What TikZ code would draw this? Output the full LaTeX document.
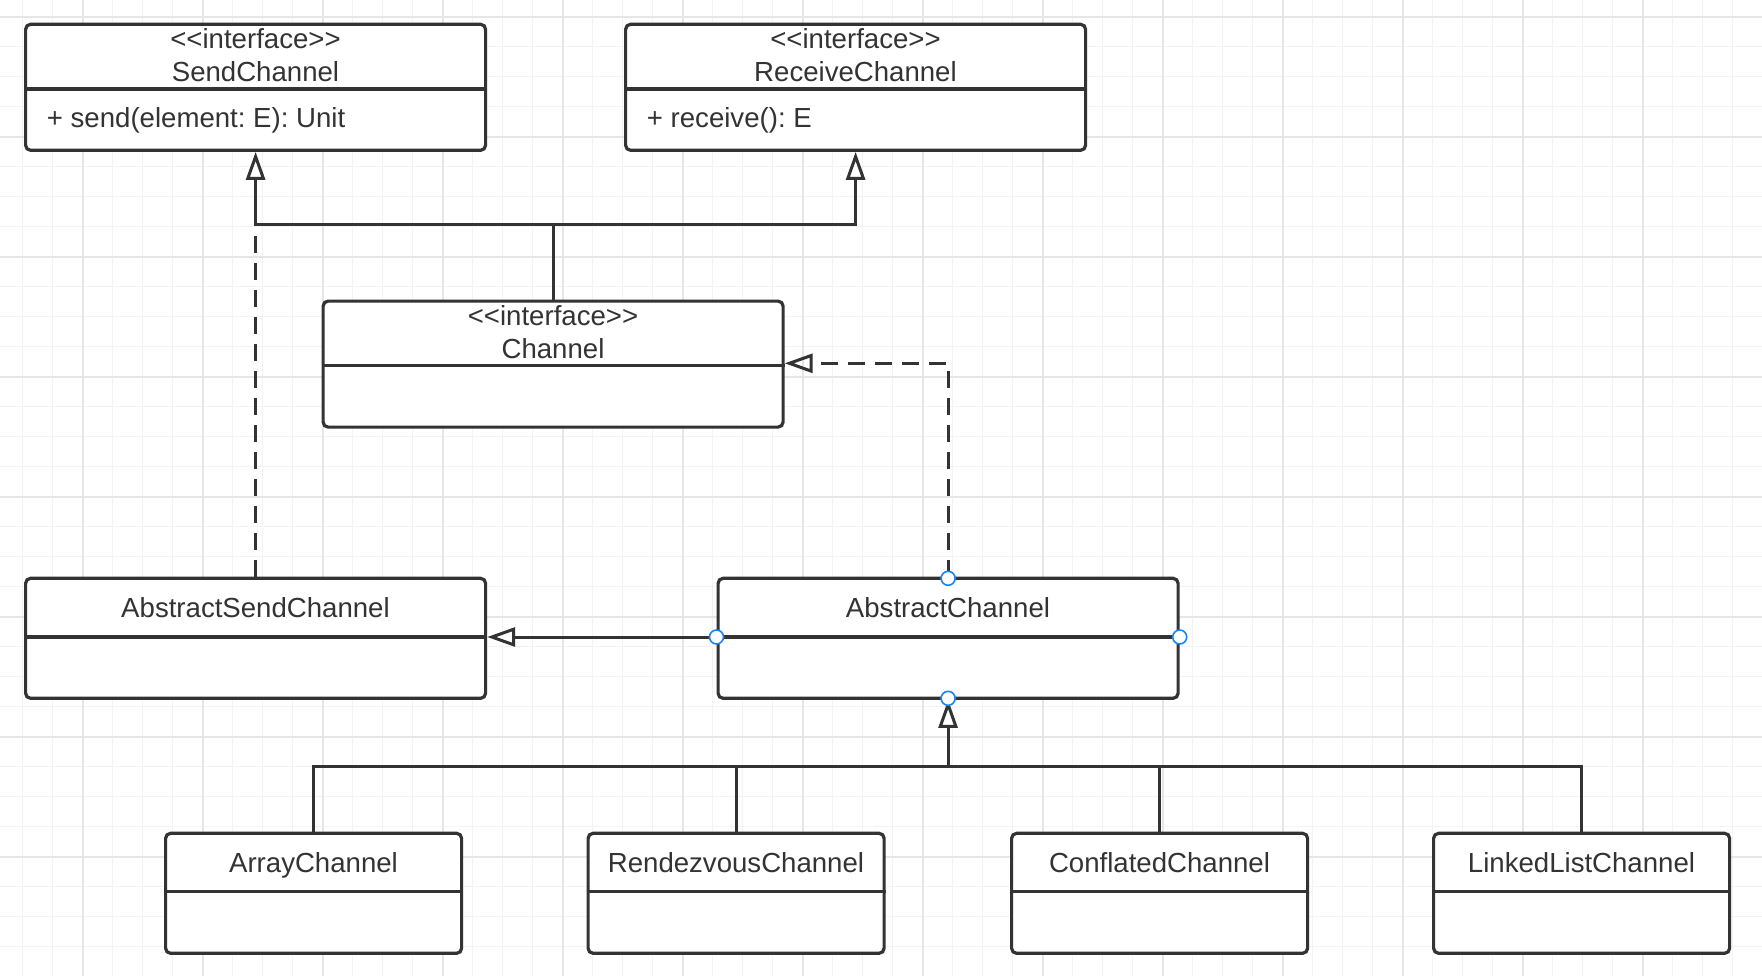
\documentclass[tikz,border=0pt]{standalone}
\usepackage{fontspec}
\newfontfamily\umlfont{Liberation Sans}
\usepackage{tikz}
\usetikzlibrary{arrows.meta}
\usepackage{xcolor}
\definecolor{linec}{HTML}{333333}
\definecolor{gridminor}{HTML}{F3F3F3}
\definecolor{gridmajor}{HTML}{E6E6E6}
\definecolor{handleblue}{HTML}{1A84F5}
\frenchspacing

\tikzset{
    umlbox/.style={draw=linec, line width=1.6pt, rounded corners=2.5pt, fill=white, inner sep=0pt, anchor=north west},
    bigbox/.style={umlbox, minimum width=230pt, minimum height=63pt},
    midbox/.style={umlbox, minimum width=230pt, minimum height=60pt},
    smallbox/.style={umlbox, minimum width=148pt, minimum height=60pt},
    sepline/.style={draw=linec, line width=1.6pt},
    lbl/.style={font=\umlfont\fontsize{13.8}{16}\selectfont, text=linec, inner sep=0pt, anchor=base},
    conn/.style={draw=linec, line width=1.5pt},
    inh/.style={-{Triangle[open, length=14pt, width=9.5pt]}},
    realize/.style={dash pattern=on 8.5pt off 5pt},
    handle/.style={circle, draw=handleblue, line width=0.8pt, fill=white, minimum size=7pt, inner sep=0pt}
}

\begin{document}
\begin{tikzpicture}[x=0.5pt, y=-0.5pt]

    \useasboundingbox (0,0) rectangle (1762,976);
    \fill[white] (0,0) rectangle (1762,976);
    % grid
    \foreach \gx in {22.7,52.7,...,1762}
        \draw[gridminor, line width=0.5pt] (\gx,0) -- (\gx,976);
    \foreach \gy in {16.7,46.7,...,976}
        \draw[gridminor, line width=0.5pt] (0,\gy) -- (1762,\gy);
    \foreach \gx in {82.7,202.7,...,1762}
        \draw[gridmajor, line width=0.8pt] (\gx,0) -- (\gx,976);
    \foreach \gy in {16.7,136.7,...,976}
        \draw[gridmajor, line width=0.8pt] (0,\gy) -- (1762,\gy);

    % interfaces
    \node[bigbox] (send) at (24,22.7) {};
    \draw[sepline] (send.west |- 0,89) -- (send.east |- 0,89);
    \node[lbl] (sendst) at (255.5,48.2) {<<interface>>};
    \node[lbl] (sendname) at (255.5,81.7) {SendChannel};
    \node[lbl, anchor=base west] (sendop) at (46.5,127.2) {+ send(element: E): Unit};

    \node[bigbox] (recv) at (624,22.7) {};
    \draw[sepline] (recv.west |- 0,89) -- (recv.east |- 0,89);
    \node[lbl] (recvst) at (855.5,48.2) {<<interface>>};
    \node[lbl] (recvname) at (855.5,81.7) {ReceiveChannel};
    \node[lbl, anchor=base west] (recvop) at (646.5,127.2) {+ receive(): E};

    \node[bigbox] (chan) at (321.5,299.5) {};
    \draw[sepline] (chan.west |- 0,365.5) -- (chan.east |- 0,365.5);
    \node[lbl] (chanst) at (553,325) {<<interface>>};
    \node[lbl] (channame) at (553,358.5) {Channel};

    % abstract classes
    \node[midbox] (asend) at (24,576.7) {};
    \draw[sepline] (asend.west |- 0,637) -- (asend.east |- 0,637);
    \node[lbl] (asendname) at (255.5,617.8) {AbstractSendChannel};

    \node[midbox] (achan) at (716.5,576.7) {};
    \draw[sepline] (achan.west |- 0,637) -- (achan.east |- 0,637);
    \node[lbl] (achanname) at (948,617.8) {AbstractChannel};

    % implementations
    \node[smallbox] (arr) at (164,831.7) {};
    \node[smallbox] (rdv) at (586.5,831.7) {};
    \node[smallbox] (conf) at (1010,831.7) {};
    \node[smallbox] (link) at (1432,831.7) {};
    \foreach \b in {arr,rdv,conf,link}
        \draw[sepline] (\b.west |- 0,891.7) -- (\b.east |- 0,891.7);
    \node[lbl] (arrname) at (313.5,872.6) {ArrayChannel};
    \node[lbl] (rdvname) at (736,872.6) {RendezvousChannel};
    \node[lbl] (confname) at (1159.5,872.6) {ConflatedChannel};
    \node[lbl] (linkname) at (1581.5,872.6) {LinkedListChannel};

    % connectors
    \coordinate (jsend) at (send.south |- 0,224);
    \coordinate (jbot) at (achan.south |- 0,766.5);
    \draw[conn, inh] (chan.north) |- (jsend) -- (send.south);
    \draw[conn, inh] (chan.north) |- (recv.south |- jsend) -- (recv.south);
    \draw[conn, realize] (asend.north) -- (jsend);
    \draw[conn, realize, inh] (achan.north) |- (chan.east |- 0,363.3);
    \draw[conn, inh] (achan.west |- 0,637) -- (asend.east |- 0,637);
    \draw[conn, inh] (jbot) -- (achan.south);
    \draw[conn] (arr.north) |- (jbot) -| (link.north);
    \draw[conn] (rdv.north) -- (rdv.north |- jbot);
    \draw[conn] (conf.north) -- (conf.north |- jbot);

    % selection handles
    \node[handle] (htop) at ([yshift=-0.8pt]achan.north) {};
    \node[handle] (hleft) at (achan.west |- 0,637) {};
    \node[handle] (hright) at (achan.east |- 0,637) {};
    \node[handle] (hbot) at ([yshift=0.8pt]achan.south) {};
\end{tikzpicture}
\end{document}
